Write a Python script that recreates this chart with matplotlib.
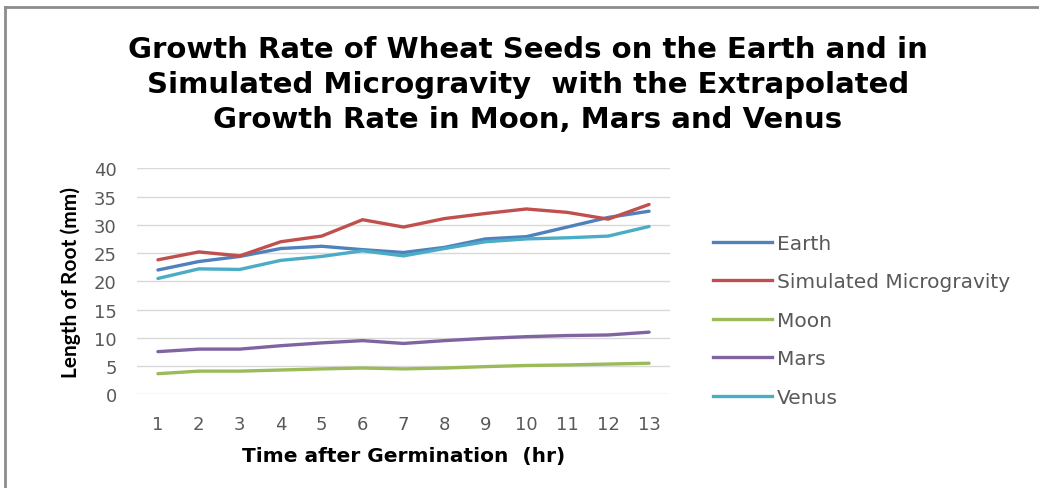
import matplotlib.pyplot as plt
from matplotlib.lines import Line2D

hours = list(range(1, 14))
earth = [22.0, 23.5, 24.4, 25.8, 26.2, 25.6, 25.1, 26.0, 27.5, 27.9, 29.6, 31.3, 32.4]
micro = [23.8, 25.2, 24.5, 27.0, 28.0, 30.9, 29.6, 31.1, 32.0, 32.8, 32.2, 31.0, 33.6]
moon = [3.65, 4.1, 4.1, 4.3, 4.5, 4.65, 4.5, 4.65, 4.9, 5.1, 5.2, 5.35, 5.5]
mars = [7.55, 8.0, 8.0, 8.6, 9.1, 9.5, 9.0, 9.5, 9.9, 10.2, 10.4, 10.5, 11.0]
venus = [20.5, 22.2, 22.1, 23.7, 24.4, 25.4, 24.5, 25.8, 27.0, 27.5, 27.7, 28.0, 29.7]

series = [
    ("Earth", earth, "#4F81BD"),
    ("Simulated Microgravity", micro, "#C0504D"),
    ("Moon", moon, "#9BBB59"),
    ("Mars", mars, "#8064A2"),
    ("Venus", venus, "#4BACC6"),
]

plt.rcParams['font.family'] = ['DejaVu Sans']

fig = plt.figure(figsize=(10.39, 4.89), dpi=100)
ax = fig.add_axes([0.1323, 0.1916, 0.5121, 0.4622])

for name, vals, col in series:
    ax.plot(hours, vals, color=col, lw=2.4, label=name, solid_capstyle='round')

ax.set_xlim(0.5, 13.5)
ax.set_ylim(0, 40)
ax.set_yticks(range(0, 41, 5))
ax.set_xticks(hours)
ax.grid(axis='y', color='#D9D9D9', lw=1)
ax.set_axisbelow(True)
for s in ax.spines.values():
    s.set_visible(False)
ax.tick_params(length=0, labelsize=13, labelcolor='#595959')
ax.tick_params(axis='y', pad=15)
ax.tick_params(axis='x', pad=15)

ax.set_ylabel('Length of Root (mm)', fontsize=15, fontweight='bold',
              family=['Lato', 'DejaVu Sans'], labelpad=9)
ax.set_xlabel('Time after Germination  (hr)', fontsize=14.5, fontweight='bold',
              labelpad=9)

fig.text(0.508, 0.826,
         'Growth Rate of Wheat Seeds on the Earth and in\n'
         'Simulated Microgravity  with the Extrapolated\n'
         'Growth Rate in Moon, Mars and Venus',
         ha='center', va='center', fontsize=21, fontweight='bold',
         linespacing=1.32)

handles = [Line2D([], [], color=c, lw=2.4) for _, _, c in series]
leg = fig.legend(handles, [n for n, _, _ in series], loc='center left',
                 bbox_to_anchor=(0.669, 0.343), frameon=False, fontsize=14.5,
                 handlelength=2.9, handletextpad=0.25, labelspacing=0.97)
for t in leg.get_texts():
    t.set_color('#595959')

# grey frame at the top and left edge
fig.add_artist(Line2D([0.005, 0.005], [0, 0.984], color='#8C8C8C', lw=2,
                      transform=fig.transFigure))
fig.add_artist(Line2D([0.005, 1], [0.984, 0.984], color='#8C8C8C', lw=2,
                      transform=fig.transFigure))

fig.savefig('out.png', dpi=100)
